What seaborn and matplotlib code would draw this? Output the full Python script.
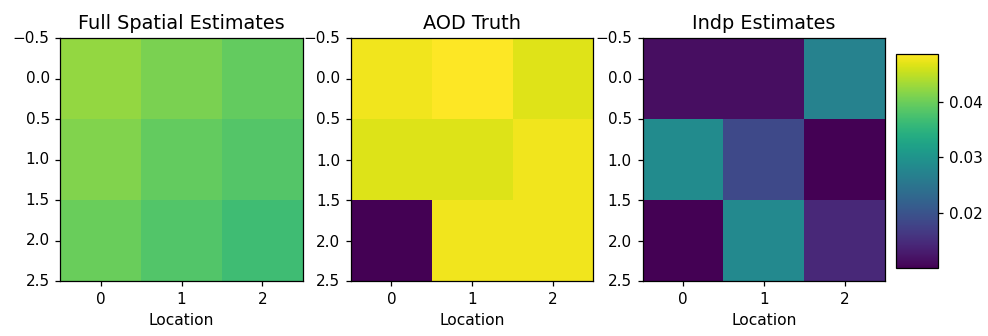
import numpy as np
import matplotlib
matplotlib.use("Agg")
import matplotlib.pyplot as plt
import seaborn as sns

# AOD values on a 3x3 grid of locations (rows top to bottom)
full_spatial = [
    [0.0424, 0.0408, 0.0393],
    [0.0413, 0.0393, 0.0382],
    [0.0398, 0.0381, 0.0366],
]
aod_truth = [
    [0.0478, 0.0486, 0.0467],
    [0.0466, 0.0466, 0.0478],
    [0.0100, 0.0478, 0.0478],
]
indp = [
    [0.0115, 0.0115, 0.0270],
    [0.0285, 0.0185, 0.0100],
    [0.0101, 0.0281, 0.0143],
]
titles = ["Full Spatial Estimates", "AOD Truth", "Indp Estimates"]
x_ticklabels = ["0", "1", "2"]
y_ticklabels = ["\u22120.5", "0.0", "0.5", "1.0", "1.5", "2.0", "2.5"]
cbar_ticks = [0.02, 0.03, 0.04]

panels = [np.array(full_spatial), np.array(aod_truth), np.array(indp)]
vmin = min(p.min() for p in panels)
vmax = max(p.max() for p in panels)

fig = plt.figure(figsize=(9.88, 3.36), dpi=100)
lefts = [0.0612, 0.3553, 0.6505]
axes = [fig.add_axes([l, 0.1628, 0.2452, 0.7232]) for l in lefts]
cax = fig.add_axes([0.9066, 0.2024, 0.0431, 0.6369])

for i, (ax, data, title) in enumerate(zip(axes, panels, titles)):
    last = i == len(panels) - 1
    sns.heatmap(data, ax=ax, cmap="viridis", vmin=vmin, vmax=vmax,
                cbar=last, cbar_ax=cax if last else None, square=False)
    for s in ax.spines.values():
        s.set_visible(True)
        s.set_linewidth(0.9)
        s.set_color("black")
    ax.set_xticks([0.5, 1.5, 2.5])
    ax.set_xticklabels(x_ticklabels, rotation=0)
    ax.set_yticks(np.arange(0, 3.01, 0.5))
    ax.set_yticklabels(y_ticklabels, rotation=0)
    ax.tick_params(length=3.9, width=0.9, labelsize=11, pad=3.9)
    ax.set_xlabel("Location", fontsize=11.2, labelpad=4)
    ax.set_title(title, fontsize=13.9, pad=6.7)

cbar = axes[-1].collections[0].colorbar
cbar.outline.set_visible(True)
cbar.outline.set_linewidth(0.9)
cbar.outline.set_edgecolor("black")
cbar.set_ticks(cbar_ticks)
cbar.set_ticklabels(["0.02", "0.03", "0.04"])
cax.tick_params(length=3.9, width=0.9, labelsize=11, pad=3.9)

fig.savefig("out.png", dpi=100)
